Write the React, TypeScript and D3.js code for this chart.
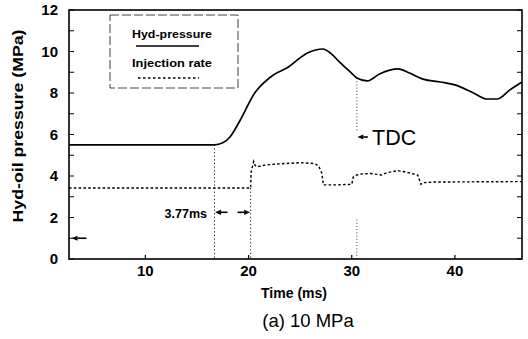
import React from "react";
import * as d3 from "d3";

// Hydraulic oil pressure trace (ms, MPa)
const pressTime = [2.6, 16.7, 17.5, 18.2, 19.2, 20.6, 21.5, 22.4, 23.7, 25.7, 27.2, 28.0, 28.9, 30.0, 30.5, 31.5, 32.7, 34.5, 35.6, 36.9, 38.6, 40.0, 41.8, 43.1, 44.1, 45.3, 46.5];
const pressVal = [5.5, 5.5, 5.6, 5.88, 6.7, 8.0, 8.5, 8.87, 9.2, 9.93, 10.12, 9.9, 9.45, 8.95, 8.72, 8.58, 8.92, 9.16, 8.96, 8.67, 8.53, 8.39, 8.0, 7.71, 7.71, 8.14, 8.53];

// Injection rate trace (ms, plotted on the same scale)
const injTime = [2.6, 20.2, 20.25, 20.5, 20.65, 20.9, 21.3, 22.0, 23.5, 25.0, 26.4, 26.8, 27.1, 27.25, 28.5, 30.0, 30.15, 30.5, 31.0, 31.8, 32.9, 33.4, 34.5, 35.5, 36.4, 36.7, 36.9, 38.0, 46.5];
const injVal = [3.42, 3.42, 4.2, 4.7, 4.5, 4.45, 4.5, 4.55, 4.6, 4.64, 4.6, 4.48, 4.13, 3.57, 3.57, 3.6, 3.95, 4.05, 4.1, 4.12, 4.05, 4.16, 4.26, 4.16, 4.05, 3.6, 3.68, 3.71, 3.73];

const xTicks = [10, 20, 30, 40];
const yTickLabels = [0, 2, 4, 6, 8, 10, 12];
const yMinorTicks = d3.range(0, 13, 1);

// Event markers
const injStart = 16.7;   // injection command
const injRise = 20.2;    // injection rate rise
const tdcTime = 30.5;    // top dead centre
const delayLabel = "3.77ms";

const W = 528;
const H = 339;
const FONT = "'Liberation Sans', Arial, Helvetica, sans-serif";

export default function App() {
  const x = d3.scaleLinear().domain([2.6, 46.5]).range([69, 522]);
  const y = d3.scaleLinear().domain([0, 12]).range([259, 10]);

  const pressData = pressTime.map((t, i) => [t, pressVal[i]] as [number, number]);
  const injData = injTime.map((t, i) => [t, injVal[i]] as [number, number]);

  const pressLine = d3.line<[number, number]>()
    .x(d => x(d[0])).y(d => y(d[1]))
    .curve(d3.curveMonotoneX)(pressData) || "";
  const injLine = d3.line<[number, number]>()
    .x(d => x(d[0])).y(d => y(d[1]))(injData) || "";

  const [x0, x1] = x.range();
  const [yb, yt] = y.range();

  const arrow = (tipX: number, tailX: number, yy: number, key: string) => {
    const dir = tailX > tipX ? 1 : -1;
    const hl = 6;
    return (
      <g key={key}>
        <line x1={tipX + dir * hl} y1={yy} x2={tailX} y2={yy} stroke="#000" strokeWidth={1.6} />
        <path d={`M${tipX},${yy} L${tipX + dir * hl},${yy - 2.6} L${tipX + dir * hl},${yy + 2.6} Z`} fill="#000" />
      </g>
    );
  };

  return (
    <svg width={W} height={H} style={{ position: "absolute", left: 0, top: 0, background: "#fff" }} fontFamily={FONT}>
      {/* frame */}
      <rect x={x0} y={yt} width={x1 - x0} height={yb - yt} fill="none" stroke="#000" strokeWidth={1.6} />

      {/* y ticks both sides */}
      {yMinorTicks.map(v => (
        <g key={"yt" + v}>
          <line x1={x0} x2={x0 + 5} y1={y(v)} y2={y(v)} stroke="#000" strokeWidth={1} />
          <line x1={x1} x2={x1 - 5} y1={y(v)} y2={y(v)} stroke="#000" strokeWidth={1} />
        </g>
      ))}
      {yTickLabels.map(v => (
        <text key={"yl" + v} x={58} y={y(v)} dy="0.36em" textAnchor="end" fontSize={15} fontWeight="bold">{v}</text>
      ))}

      {/* x ticks */}
      {xTicks.map(t => (
        <g key={"xt" + t}>
          <line x1={x(t)} x2={x(t)} y1={yb} y2={yb - 4} stroke="#000" strokeWidth={1.2} />
          <text x={x(t)} y={276} textAnchor="middle" fontSize={15} fontWeight="bold">{t}</text>
        </g>
      ))}

      {/* axis titles */}
      <text x={294} y={298} textAnchor="middle" fontSize={14} fontWeight="bold">Time (ms)</text>
      <text transform="translate(23,126) rotate(-90)" textAnchor="middle" fontSize={14.5} fontWeight="bold"
        textLength={193} lengthAdjust="spacingAndGlyphs">Hyd-oil pressure (MPa)</text>
      <text x={308} y={327} textAnchor="middle" fontSize={18.5}>(a) 10 MPa</text>

      {/* legend */}
      <rect x={110} y={15} width={128} height={73} fill="none" stroke="#111" strokeWidth={0.8} strokeDasharray="9,3" />
      <text x={132} y={38} fontSize={11.5} fontWeight="bold" textLength={80} lengthAdjust="spacingAndGlyphs">Hyd-pressure</text>
      <line x1={136} x2={199} y1={46} y2={46} stroke="#000" strokeWidth={1.6} />
      <text x={132} y={67} fontSize={11.5} fontWeight="bold" textLength={80} lengthAdjust="spacingAndGlyphs">Injection rate</text>
      <line x1={138} x2={199} y1={78} y2={78} stroke="#000" strokeWidth={1.3} strokeDasharray="2.5,2.5" />

      {/* event guide lines */}
      <line x1={x(injStart)} x2={x(injStart)} y1={y(5.5)} y2={yb} stroke="#000" strokeWidth={0.9} strokeDasharray="1.2,2.4" />
      <line x1={x(injRise)} x2={x(injRise)} y1={y(3.42)} y2={yb} stroke="#000" strokeWidth={0.9} strokeDasharray="1.2,2.4" />
      <line x1={x(tdcTime)} x2={x(tdcTime)} y1={y(8.72)} y2={y(6.1)} stroke="#000" strokeWidth={0.8} strokeDasharray="1,2.2" />
      <line x1={x(tdcTime)} x2={x(tdcTime)} y1={y(1.9)} y2={yb} stroke="#000" strokeWidth={0.8} strokeDasharray="1,2.2" />

      {/* traces */}
      <path d={injLine} fill="none" stroke="#000" strokeWidth={1.4} strokeDasharray="2.6,2.2" />
      <path d={pressLine} fill="none" stroke="#000" strokeWidth={1.7} />

      {/* annotations */}
      {arrow(x(tdcTime) + 0.5, x(tdcTime) + 11, y(5.88), "tdc")}
      <text x={372} y={145} fontSize={21.5}>TDC</text>

      {arrow(x(injStart) + 0.5, x(injStart) + 13, y(2.25), "d1")}
      {arrow(x(injRise) - 0.5, x(injRise) - 13, y(2.25), "d2")}
      <text x={207} y={217.5} textAnchor="end" fontSize={12.5} fontWeight="bold">{delayLabel}</text>

      {arrow(x(2.85), x(4.3), y(1.0), "base")}
    </svg>
  );
}
